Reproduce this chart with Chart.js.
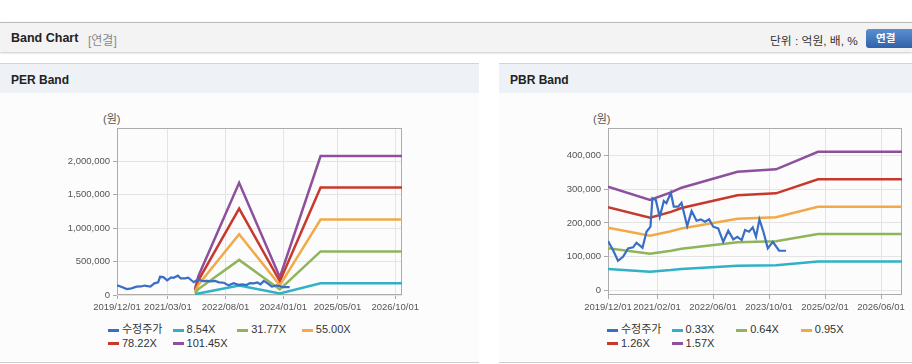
<!DOCTYPE html>
<html>
<head>
<meta charset="utf-8">
<script src="https://cdn.jsdelivr.net/npm/chart.js@4.4.1/dist/chart.umd.min.js"></script>
<style>
    body { margin: 0; width: 912px; height: 364px; position: relative; overflow: hidden; background: #fff;
        font-family: "Liberation Sans", "Noto Sans CJK KR", sans-serif; color: #222; }
    .top { position: absolute; left: 0; top: 22px; width: 912px; height: 29px; background: #f3f3f3;
        border-top: 1px solid #b9b9b9; box-shadow: 0 1px 2px #c8c8c8; }
    .top .title { position: absolute; left: 11px; top: 8px; font-weight: bold; font-size: 12.5px; }
    .top .sub { position: absolute; left: 88px; top: 8px; font-size: 12px; color: #8a8a8a; }
    .top .unit { position: absolute; left: 770px; top: 8px; font-size: 11.8px; color: #333; }
    .top .btn { position: absolute; left: 866px; top: 6px; width: 52px; height: 19px; border-radius: 3px;
        background: linear-gradient(#5b8fd2, #2f62a9); color: #fff; font-weight: bold; font-size: 10.5px;
        line-height: 19px; padding-left: 10px; box-sizing: border-box; }
    .panel { position: absolute; top: 63px; height: 298px; background: #fcfcfc;
        border-top: 1px solid #d3d3d3; border-bottom: 1px solid #cfcfcf; }
    .panel .head { height: 29px; background: #eef2f7; }
    .panel .head span { position: absolute; left: 11px; top: 9px; font-weight: bold; font-size: 12px; }
    .unitlbl { position: absolute; top: 110px; font-size: 11px; color: #555; }
    .box { position: absolute; top: 93px; height: 222px; }
    .legend { position: absolute; top: 323px; display: grid; grid-template-columns: repeat(4, 64.6px);
        grid-auto-rows: 13.5px; font-size: 11px; color: #333; }
    .legend div { white-space: nowrap; line-height: 13.5px; }
    .legend i { display: inline-block; width: 11px; height: 3px; margin-right: 3px; vertical-align: middle; }
</style>
</head>
<body>
<div class="top">
    <span class="title">Band Chart</span>
    <span class="sub">[연결]</span>
    <span class="unit">단위 : 억원, 배, %</span>
    <span class="btn">연결</span>
</div>
<div class="panel" style="left:0;width:479px"><div class="head"><span>PER Band</span></div></div>
<div class="panel" style="left:499px;width:413px"><div class="head"><span>PBR Band</span></div></div>
<span class="unitlbl" style="left:103px">(원)</span>
<span class="unitlbl" style="left:593px">(원)</span>
<div class="box" style="left:0;width:479px"><canvas id="per" width="479" height="222"></canvas></div>
<div class="box" style="left:499px;width:413px"><canvas id="pbr" width="413" height="222"></canvas></div>
<div class="legend" id="perLegend" style="left:108px"></div>
<div class="legend" id="pbrLegend" style="left:607px"></div>
<script>
// 수정주가 (shared by both charts)
const priceDates = ["2019/12/01", "2020/01/14", "2020/02/27", "2020/04/10", "2020/05/23", "2020/07/06",
    "2020/08/05", "2020/09/27", "2020/11/01", "2020/12/05", "2020/12/22", "2021/01/21", "2021/02/25",
    "2021/03/30", "2021/04/22", "2021/05/30", "2021/06/25", "2021/08/02", "2021/09/01", "2021/10/20",
    "2021/11/28", "2022/01/10", "2022/02/17", "2022/03/22", "2022/04/28", "2022/06/03", "2022/07/16",
    "2022/08/29", "2022/10/12", "2022/11/25", "2022/12/30", "2023/02/07", "2023/03/06", "2023/04/10",
    "2023/05/12", "2023/06/10", "2023/07/09", "2023/08/13", "2023/09/21", "2023/11/04", "2023/12/28",
    "2024/02/28"];
const priceValues = [146600, 120000, 88500, 100000, 125000, 128000, 141600, 127000, 174000, 189000,
    272600, 267600, 218000, 264600, 258000, 289000, 248000, 248000, 259600, 191000, 235000, 206500,
    210600, 203500, 210600, 189000, 184000, 144500, 177000, 151600, 159000, 149600, 179000, 174000,
    187000, 159000, 210600, 174000, 125000, 144500, 118000, 118000];

// PER band
const perDates = ["2021/11/01", "2021/12/01", "2022/12/01", "2023/12/01", "2024/12/01", "2026/12/01"];
const per854 = [7700, 23900, 141300, 22400, 175500, 175500];
const per3177 = [28600, 89000, 525800, 83200, 652900, 652900];
const per5500 = [49500, 154000, 910000, 144000, 1130000, 1130000];
const per7822 = [70400, 219000, 1294500, 205000, 1607500, 1607500];
const per10145 = [91300, 284000, 1679000, 265800, 2079700, 2079700];
const perTicks = ["2019/12/01", "2021/03/01", "2022/08/01", "2024/01/01", "2025/05/01", "2026/10/01"];
const perYTicks = [0, 500000, 1000000, 1500000, 2000000];

// PBR band
const pbrDates = ["2019/12/01", "2020/12/01", "2021/06/01", "2021/09/01", "2023/01/01", "2023/12/01",
    "2024/12/01", "2026/12/01"];
const pbr033 = [64500, 56300, 60900, 63900, 73800, 75200, 86200, 86200];
const pbr064 = [125100, 109200, 118200, 123900, 143100, 145900, 167100, 167100];
const pbr095 = [185700, 162200, 175500, 183900, 212400, 216600, 248000, 248000];
const pbr126 = [246300, 215100, 232700, 243900, 281700, 287300, 329000, 329000];
const pbr157 = [306900, 268000, 290000, 304000, 351100, 358000, 409900, 409900];
const pbrTicks = ["2019/12/01", "2021/02/01", "2022/06/01", "2023/10/01", "2025/02/01", "2026/06/01"];
const pbrYTicks = [0, 100000, 200000, 300000, 400000];

const colors = ["#3a6ec4", "#31b1c6", "#8fb45a", "#f1aa47", "#c8392d", "#8e4f9d"];

// months since 2019/12/01
function toM(d) {
    const [y, m, dd] = d.split("/").map(Number);
    return (y - 2019) * 12 + (m - 12) + (dd - 1) / 30.4;
}

function series(label, dates, values, color, width) {
    return {
        label,
        data: dates.map((d, i) => ({ x: toM(d), y: values[i] })),
        borderColor: color,
        backgroundColor: color,
        borderWidth: width,
        pointRadius: 0,
        tension: 0,
    };
}

const tickFont = { family: "'Liberation Sans', sans-serif", size: 9.5 };

const frame = {
    id: "frame",
    beforeDatasetsDraw(chart) {
        const a = chart.chartArea;
        const g = chart.ctx;
        g.save();
        g.strokeStyle = "#acacac";
        g.lineWidth = 1;
        g.strokeRect(Math.round(a.left) + 0.5, Math.round(a.top) + 0.5,
            Math.round(a.width) - 1, Math.round(a.height) - 1);
        g.restore();
    },
};

function makeChart(id, datasets, xTicks, yTicks, yMin, yMax, yWidth, padRight) {
    return new Chart(document.getElementById(id), {
        type: "line",
        data: { datasets },
        options: {
            responsive: false,
            animation: false,
            layout: { padding: { top: 35, right: padRight, left: 0, bottom: 0 } },
            plugins: { legend: { display: false }, tooltip: { enabled: false } },
            scales: {
                x: {
                    type: "linear",
                    min: 0,
                    max: 84,
                    afterBuildTicks: (s) => { s.ticks = xTicks.map((d) => ({ value: toM(d) })); },
                    afterFit: (s) => { s.height = 20; },
                    ticks: {
                        autoSkip: false,
                        maxRotation: 0,
                        padding: 3,
                        color: "#555",
                        font: tickFont,
                        callback: (v) => xTicks.find((d) => Math.abs(toM(d) - v) < 0.01) || "",
                    },
                    grid: { color: "#e4e4e4", tickColor: "#aaa", tickLength: 4 },
                    border: { display: false },
                },
                y: {
                    min: yMin,
                    max: yMax,
                    afterBuildTicks: (s) => { s.ticks = yTicks.map((v) => ({ value: v })); },
                    afterFit: (s) => { s.width = yWidth; },
                    ticks: {
                        padding: 3,
                        color: "#555",
                        font: tickFont,
                        callback: (v) => v.toLocaleString("en-US"),
                    },
                    grid: { color: "#e4e4e4", tickColor: "#aaa", tickLength: 4 },
                    border: { display: false },
                },
            },
        },
        plugins: [frame],
    });
}

function legend(elId, chart) {
    const el = document.getElementById(elId);
    chart.data.datasets.forEach((ds) => {
        const item = document.createElement("div");
        const mark = document.createElement("i");
        mark.style.background = ds.borderColor;
        item.appendChild(mark);
        item.appendChild(document.createTextNode(ds.label));
        el.appendChild(item);
    });
}

const perChart = makeChart("per", [
    series("수정주가", priceDates, priceValues, colors[0], 2.2),
    series("8.54X", perDates, per854, colors[1], 2.5),
    series("31.77X", perDates, per3177, colors[2], 2.5),
    series("55.00X", perDates, per5500, colors[3], 2.5),
    series("78.22X", perDates, per7822, colors[4], 2.5),
    series("101.45X", perDates, per10145, colors[5], 2.5),
], perTicks, perYTicks, 0, 2500000, 117, 77);

const pbrChart = makeChart("pbr", [
    series("수정주가", priceDates, priceValues, colors[0], 2.2),
    series("0.33X", pbrDates, pbr033, colors[1], 2.5),
    series("0.64X", pbrDates, pbr064, colors[2], 2.5),
    series("0.95X", pbrDates, pbr095, colors[3], 2.5),
    series("1.26X", pbrDates, pbr126, colors[4], 2.5),
    series("1.57X", pbrDates, pbr157, colors[5], 2.5),
], pbrTicks, pbrYTicks, -12500, 480000, 109, 10);

legend("perLegend", perChart);
legend("pbrLegend", pbrChart);
</script>
</body>
</html>
